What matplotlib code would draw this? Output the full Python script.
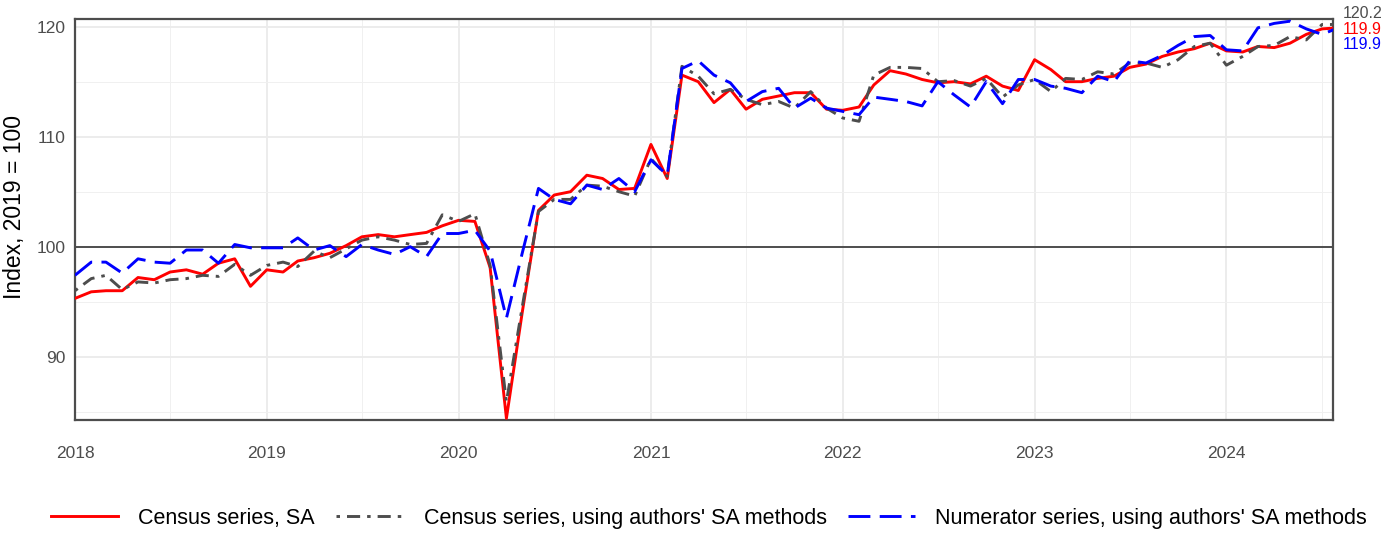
import pandas as pd
import matplotlib
matplotlib.use('Agg')
import matplotlib.pyplot as plt
import matplotlib.dates as mdates

plt.rcParams['font.family'] = ['Liberation Sans', 'DejaVu Sans']

# monthly, Jan 2018 - Aug 2024
months = pd.date_range('2018-01-01', '2024-08-01', freq='MS')

census_sa = [
    95.3, 95.9, 96.0, 96.0, 97.2, 97.0, 97.7, 97.9, 97.5, 98.5, 98.9, 96.4,
    97.9, 97.7, 98.7, 99.0, 99.4, 100.1, 100.9, 101.1, 100.9, 101.1, 101.3, 101.9,
    102.4, 102.3, 98.1, 84.4, 94.0, 103.3, 104.7, 105.0, 106.5, 106.2, 105.2, 105.3,
    109.3, 106.2, 115.6, 115.0, 113.1, 114.3, 112.5, 113.4, 113.7, 114.0, 114.0, 112.5,
    112.4, 112.7, 114.7, 116.0, 115.7, 115.2, 114.9, 115.0, 114.8, 115.5, 114.6, 114.2,
    117.0, 116.1, 115.0, 115.0, 115.3, 115.5, 116.3, 116.6, 117.3, 117.7, 118.0, 118.5,
    117.8, 117.7, 118.2, 118.1, 118.5, 119.3, 119.8, 119.9,
]
census_authors = [
    96.0, 97.1, 97.4, 96.1, 96.8, 96.7, 97.0, 97.1, 97.4, 97.3, 98.4, 97.4,
    98.3, 98.6, 98.2, 99.6, 99.0, 99.8, 100.6, 100.9, 100.6, 100.2, 100.3, 102.9,
    102.3, 103.0, 98.3, 85.9, 94.5, 103.2, 104.3, 104.3, 105.6, 105.5, 105.0, 104.6,
    108.0, 106.4, 116.4, 115.5, 113.9, 114.3, 113.4, 112.9, 113.2, 112.6, 114.1, 112.6,
    111.7, 111.4, 115.6, 116.3, 116.3, 116.2, 115.0, 115.1, 114.6, 115.3, 113.6, 114.7,
    115.2, 114.1, 115.3, 115.2, 115.9, 115.7, 116.7, 116.7, 116.3, 117.0, 118.2, 118.5,
    116.5, 117.3, 118.2, 118.3, 119.1, 118.8, 120.2, 120.2,
]
numerator_authors = [
    97.4, 98.6, 98.6, 97.6, 98.9, 98.6, 98.5, 99.7, 99.7, 98.5, 100.2, 99.9,
    99.9, 99.9, 100.8, 99.7, 100.1, 99.1, 100.2, 99.7, 99.3, 100.0, 99.1, 101.2,
    101.2, 101.5, 99.6, 93.5, 99.4, 105.3, 104.3, 103.9, 105.6, 105.2, 106.2, 105.0,
    107.9, 106.5, 116.2, 116.9, 115.6, 114.9, 113.2, 114.1, 114.4, 112.6, 113.5, 112.6,
    112.3, 112.0, 113.6, 113.4, 113.2, 112.8, 115.0, 113.8, 112.7, 115.0, 113.0, 115.2,
    115.2, 114.6, 114.4, 114.0, 115.5, 115.0, 116.9, 116.7, 117.4, 118.3, 119.1, 119.2,
    117.9, 117.8, 119.9, 120.3, 120.5, 119.8, 119.3, 119.9,
]

labels = ['Census series, SA',
          "Census series, using authors' SA methods",
          "Numerator series, using authors' SA methods"]
colors = ['#FF0000', '#4D4D4D', '#0000FF']
dark = '#4D4D4D'

fig = plt.figure(figsize=(13.93, 5.41), dpi=100)
ax = fig.add_axes([0.0538, 0.2237, 0.9032, 0.7412])

ax.axhline(100, color=dark, lw=1.4, zorder=2)

lw = 2.1
ax.plot(months, census_sa, color=colors[0], lw=lw, label=labels[0], zorder=3)
ax.plot(months, census_authors, color=colors[1], lw=lw, label=labels[1],
        dashes=(1.2, 2.4, 4.5, 2.4), zorder=4)
ax.plot(months, numerator_authors, color=colors[2], lw=lw, label=labels[2],
        dashes=(7.5, 3.2), zorder=5)

ax.set_xlim(pd.Timestamp('2018-01-01'), pd.Timestamp('2024-07-22'))
ax.set_ylim(84.25, 120.7)

ax.xaxis.set_major_locator(mdates.YearLocator())
ax.xaxis.set_major_formatter(mdates.DateFormatter('%Y'))
ax.xaxis.set_minor_locator(mdates.MonthLocator(bymonth=7))
ax.set_yticks([90, 100, 110, 120])
ax.set_yticks([85, 95, 105, 115], minor=True)

ax.grid(which='major', color='#EBEBEB', lw=1.3, zorder=0)
ax.grid(which='minor', color='#F0F0F0', lw=0.7, zorder=0)
ax.tick_params(which='both', length=0)
ax.tick_params(axis='x', pad=19, labelsize=12.5, labelcolor=dark)
ax.tick_params(axis='y', pad=7, labelsize=12.5, labelcolor=dark)
for sp in ax.spines.values():
    sp.set_color(dark)
    sp.set_linewidth(1.6)

ax.set_ylabel('Index, 2019 = 100', fontsize=16.5, color='black')
ax.yaxis.set_label_coords(-0.039, 0.53)

# end-of-series labels, stacked to the right of the panel
ends = [(census_authors[-1], colors[1], 1.013),
        (census_sa[-1], colors[0], 0.975),
        (numerator_authors[-1], colors[2], 0.937)]
for val, col, ypos in ends:
    ax.text(1.008, ypos, f'{val:.1f}', color=col, fontsize=11.5,
            transform=ax.transAxes, ha='left', va='center', clip_on=False)

fig.legend(loc='center', bbox_to_anchor=(0.509, 0.0425), ncol=3, frameon=False,
           fontsize=15.5, handlelength=3.1, handletextpad=0.95, columnspacing=1.0)

fig.savefig('out.png', dpi=100)
